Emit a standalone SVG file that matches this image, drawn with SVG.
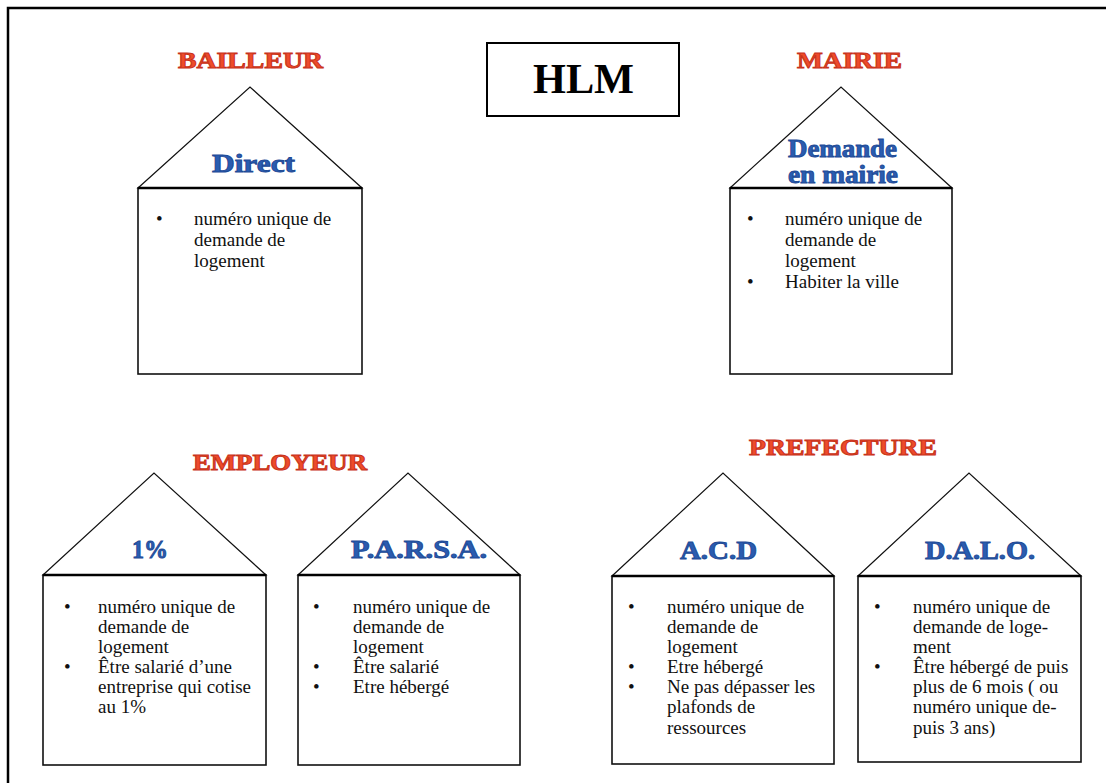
<svg xmlns="http://www.w3.org/2000/svg" width="1106" height="783" viewBox="0 0 1106 783">
<style>
.frame{stroke:#000;stroke-width:2.5;fill:none}
.roof{fill:#fff;stroke:#111;stroke-width:1.2}
.box{fill:#fff;stroke:#111;stroke-width:1.6}
.base{stroke:#000;stroke-width:2.4}
.title{font-family:"Liberation Serif",serif;font-weight:bold;font-size:24px;fill:#ee4b2b;stroke:#c8321a;stroke-width:1;text-anchor:middle}
.label{font-family:"Liberation Serif",serif;font-weight:bold;font-size:25px;fill:#2a5cb0;stroke:#1e4a96;stroke-width:0.9;text-anchor:middle}
.body{font-family:"Liberation Serif","Times New Roman",serif;font-size:19px;fill:#111}
.hlm{font-family:"Liberation Serif",serif;font-weight:bold;font-size:42px;fill:#000;text-anchor:middle}
</style>
<rect width="1106" height="783" fill="#fff"/>
<path class="frame" d="M8 783 V8 H1106"/>

<g id="hlm">
<rect x="487" y="43" width="192" height="73" fill="#fff" stroke="#000" stroke-width="2"/>
<text class="hlm" x="583.5" y="93" textLength="101" lengthAdjust="spacingAndGlyphs">HLM</text>
</g>

<g id="bailleur">
<text class="title" x="250.5" y="68" textLength="145" lengthAdjust="spacingAndGlyphs">BAILLEUR</text>
<polygon class="roof" points="138,188 250,87 362,188"/>
<rect class="box" x="138" y="188" width="224" height="186"/>
<line class="base" x1="138" y1="188" x2="362" y2="188"/>
<text class="label" x="253.5" y="172" textLength="83" lengthAdjust="spacingAndGlyphs">Direct</text>
<g class="body">
<text x="156" y="225">•</text>
<text x="194" y="225">numéro unique de</text>
<text x="194" y="246">demande de</text>
<text x="194" y="267">logement</text>
</g>
</g>

<g id="mairie">
<text class="title" x="849.5" y="68" textLength="105" lengthAdjust="spacingAndGlyphs">MAIRIE</text>
<polygon class="roof" points="730,188 841,87 952,188"/>
<rect class="box" x="730" y="188" width="222" height="186"/>
<line class="base" x1="730" y1="188" x2="952" y2="188"/>
<text class="label" x="842.5" y="157" textLength="109" lengthAdjust="spacingAndGlyphs">Demande</text>
<text class="label" x="843" y="183" textLength="110" lengthAdjust="spacingAndGlyphs">en mairie</text>
<g class="body">
<text x="747" y="225">•</text>
<text x="785" y="225">numéro unique de</text>
<text x="785" y="246">demande de</text>
<text x="785" y="267">logement</text>
<text x="747" y="288">•</text>
<text x="785" y="288">Habiter la ville</text>
</g>
</g>

<text class="title" id="employeur" x="280" y="470" textLength="174" lengthAdjust="spacingAndGlyphs">EMPLOYEUR</text>

<g id="un-pourcent">
<polygon class="roof" points="43,575 154,473 266,575"/>
<rect class="box" x="43" y="575" width="223" height="190"/>
<line class="base" x1="43" y1="575" x2="266" y2="575"/>
<text class="label" x="150" y="558" textLength="36" lengthAdjust="spacingAndGlyphs">1%</text>
<g class="body">
<text x="64" y="613">•</text>
<text x="98" y="613">numéro unique de</text>
<text x="98" y="633">demande de</text>
<text x="98" y="653">logement</text>
<text x="64" y="673">•</text>
<text x="98" y="673">Être salarié d’une</text>
<text x="98" y="693">entreprise qui cotise</text>
<text x="98" y="713">au 1%</text>
</g>
</g>

<g id="parsa">
<polygon class="roof" points="298,575 408,473 520,575"/>
<rect class="box" x="298" y="575" width="222" height="190"/>
<line class="base" x1="298" y1="575" x2="520" y2="575"/>
<text class="label" x="419" y="558" textLength="136" lengthAdjust="spacingAndGlyphs">P.A.R.S.A.</text>
<g class="body">
<text x="313" y="613">•</text>
<text x="353" y="613">numéro unique de</text>
<text x="353" y="633">demande de</text>
<text x="353" y="653">logement</text>
<text x="313" y="673">•</text>
<text x="353" y="673">Être salarié</text>
<text x="313" y="693">•</text>
<text x="353" y="693">Etre hébergé</text>
</g>
</g>

<text class="title" id="prefecture" x="843" y="455" textLength="188" lengthAdjust="spacingAndGlyphs">PREFECTURE</text>

<g id="acd">
<polygon class="roof" points="612,576 723,473 834,576"/>
<rect class="box" x="612" y="576" width="222" height="188"/>
<line class="base" x1="612" y1="576" x2="834" y2="576"/>
<text class="label" x="718.5" y="559" textLength="77" lengthAdjust="spacingAndGlyphs">A.C.D</text>
<g class="body">
<text x="628" y="613">•</text>
<text x="667" y="613">numéro unique de</text>
<text x="667" y="633">demande de</text>
<text x="667" y="653">logement</text>
<text x="628" y="673">•</text>
<text x="667" y="673">Etre hébergé</text>
<text x="628" y="693">•</text>
<text x="667" y="693">Ne pas dépasser les</text>
<text x="667" y="713">plafonds de</text>
<text x="667" y="734">ressources</text>
</g>
</g>

<g id="dalo">
<polygon class="roof" points="858,576 969,473 1081,576"/>
<rect class="box" x="858" y="576" width="223" height="186"/>
<line class="base" x1="858" y1="576" x2="1081" y2="576"/>
<text class="label" x="980" y="559" textLength="110" lengthAdjust="spacingAndGlyphs">D.A.L.O.</text>
<g class="body">
<text x="874" y="613">•</text>
<text x="913" y="613">numéro unique de</text>
<text x="913" y="633">demande de loge-</text>
<text x="913" y="653">ment</text>
<text x="874" y="673">•</text>
<text x="913" y="673">Être hébergé de puis</text>
<text x="913" y="693">plus de 6 mois ( ou</text>
<text x="913" y="713">numéro unique de-</text>
<text x="913" y="734">puis 3 ans)</text>
</g>
</g>
</svg>
